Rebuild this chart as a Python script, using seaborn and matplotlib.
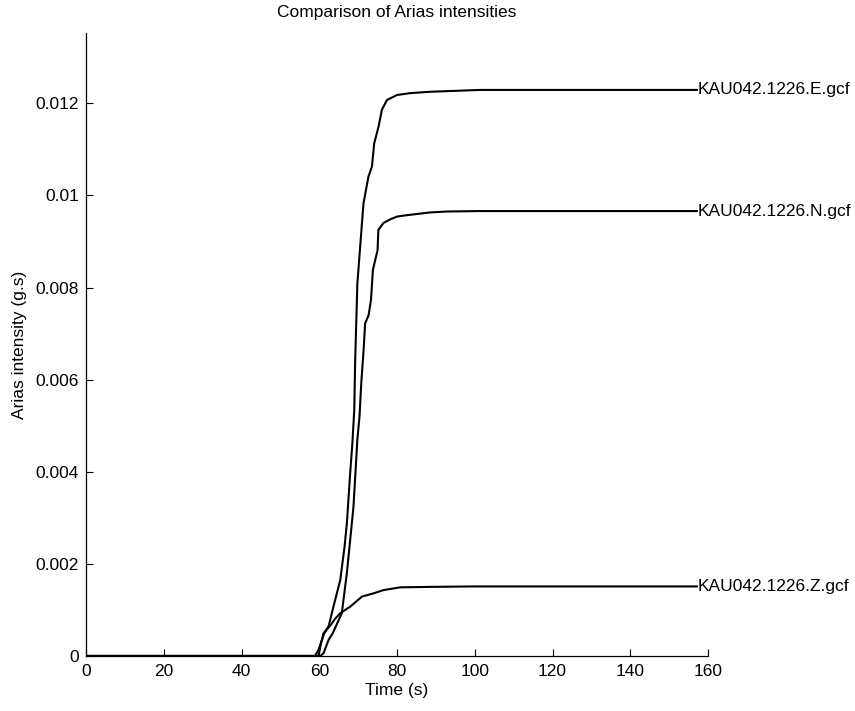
import numpy as np
import pandas as pd
import seaborn as sns
import matplotlib
matplotlib.use("Agg")
import matplotlib.pyplot as plt

# Data
t_e = [0, 58.9, 59.8, 60.7, 61.1, 62.4, 63.0, 63.65, 65.4, 66.5, 67.1, 67.95, 68.5,
       69.0, 69.24, 69.8, 70.35, 71.38, 72.66, 73.54, 74.13, 75.24, 76.11, 77.4,
       80.0, 83.4, 88.5, 101.4, 157.2]
a_e = [0, 0, 0.00013, 0.00035, 0.00049, 0.00064, 0.00085, 0.00107, 0.00165, 0.00237,
       0.00288, 0.00397, 0.0046, 0.00534, 0.00643, 0.00809, 0.0087, 0.00983, 0.01041,
       0.01062, 0.01113, 0.01149, 0.01186, 0.01207, 0.01218, 0.01222, 0.01225,
       0.01229, 0.01229]

t_n = [0, 60.3, 61.1, 62.4, 63.5, 65.8, 67.1, 67.95, 68.8, 69.8, 70.35, 70.8, 71.4,
       71.8, 72.7, 73.3, 73.8, 74.4, 75.0, 75.2, 76.5, 78.25, 80.0, 82.5, 88.5, 92.8,
       101.4, 157.2]
a_n = [0, 0, 0.00006, 0.00035, 0.0005, 0.00093, 0.0018, 0.00252, 0.00324, 0.0047,
       0.0052, 0.00592, 0.00664, 0.00722, 0.0074, 0.00773, 0.00838, 0.0086, 0.00881,
       0.00925, 0.0094, 0.00948, 0.00954, 0.00957, 0.00963, 0.00965, 0.00966, 0.00966]

t_z = [0, 59.8, 60.5, 61.2, 62.0, 63.0, 64.0, 65.4, 67.95, 71.0, 74.0, 76.5, 80.8,
       88.5, 100.0, 157.2]
a_z = [0, 0, 0.0003, 0.00048, 0.00058, 0.00068, 0.0008, 0.00093, 0.00107, 0.00129,
       0.00136, 0.00143, 0.00149, 0.0015, 0.00151, 0.00151]

names = ["KAU042.1226.E.gcf", "KAU042.1226.N.gcf", "KAU042.1226.Z.gcf"]
series = [(t_e, a_e), (t_n, a_n), (t_z, a_z)]

xticks = [0, 20, 40, 60, 80, 100, 120, 140, 160]
yticks = [0, 0.002, 0.004, 0.006, 0.008, 0.01, 0.012]
ytick_labels = ["0", "0.002", "0.004", "0.006", "0.008", "0.01", "0.012"]

df = pd.concat([
    pd.DataFrame({"Time": t, "Arias": a, "Component": n})
    for n, (t, a) in zip(names, series)
])

sns.set_style("white")
plt.rcParams["font.family"] = ["Liberation Sans", "DejaVu Sans"]
plt.rcParams["text.color"] = "black"
plt.rcParams["axes.labelcolor"] = "black"

fig = plt.figure(figsize=(8.55, 7.11), dpi=100)
ax = fig.add_axes([0.1006, 0.0774, 0.7275, 0.8758])

sns.lineplot(
    ax=ax, data=df, x="Time", y="Arias", units="Component", estimator=None,
    sort=False, color="black", linewidth=1.5, legend=False
)

# labels at the end of each curve
for n, (t, a) in zip(names, series):
    ax.text(t[-1], a[-1], n, fontsize=12.5, va="center", ha="left", color="black")

ax.set_xlim(0, 160)
ax.set_ylim(0, 0.01352)
ax.set_xticks(xticks)
ax.set_xticklabels([str(x) for x in xticks])
ax.set_yticks(yticks)
ax.set_yticklabels(ytick_labels)
ax.tick_params(direction="in", length=5, width=0.8, labelsize=12.5, colors="black",
               left=True, bottom=True)
ax.tick_params(axis="x", pad=6)
ax.tick_params(axis="y", pad=5)
sns.despine(ax=ax)
for s in ["left", "bottom"]:
    ax.spines[s].set_color("black")
    ax.spines[s].set_linewidth(0.9)

ax.set_xlabel("Time (s)", fontsize=12.5, labelpad=3)
ax.set_ylabel("Arias intensity (g.s)", fontsize=12.5, labelpad=6)
ax.set_title("Comparison of Arias intensities", fontsize=12.5, pad=12)

plt.savefig("out.png", dpi=100)
